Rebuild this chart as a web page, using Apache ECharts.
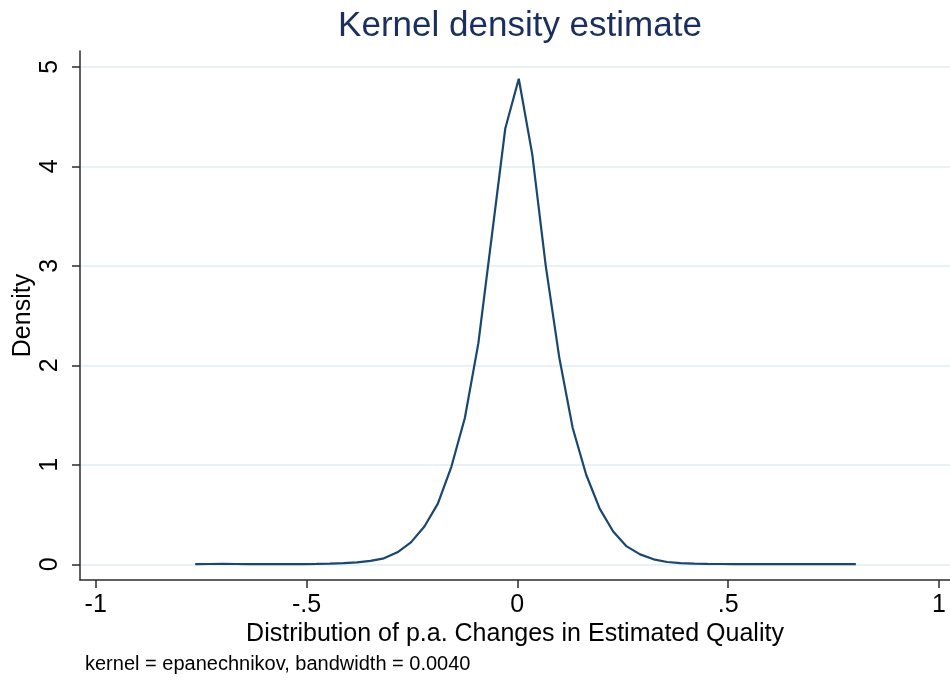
<!DOCTYPE html>
<html>
<head>
<meta charset="utf-8">
<script src="https://cdn.jsdelivr.net/npm/echarts@6/dist/echarts.min.js"></script>
<style>
  html, body { margin: 0; padding: 0; background: #ffffff; }
  #chart { width: 950px; height: 681px; }
</style>
</head>
<body>
<div id="chart"></div>
<script>
// Evaluation points of the kernel density estimate
const gridX = [
  -0.7640, -0.7320, -0.7000, -0.6681, -0.6361, -0.6041, -0.5721, -0.5401, -0.5082, -0.4762,
  -0.4442, -0.4122, -0.3802, -0.3483, -0.3163, -0.2843, -0.2523, -0.2203, -0.1884, -0.1564,
  -0.1244, -0.0924, -0.0604, -0.0285,  0.0035,  0.0355,  0.0675,  0.0995,  0.1314,  0.1634,
   0.1954,  0.2274,  0.2594,  0.2913,  0.3233,  0.3553,  0.3873,  0.4193,  0.4512,  0.4832,
   0.5152,  0.5472,  0.5792,  0.6111,  0.6431,  0.6751,  0.7071,  0.7391,  0.7711,  0.8030
];
// Estimated density at each point
const density = [
  0.002, 0.003, 0.004, 0.003, 0.002, 0.002, 0.002, 0.002, 0.002, 0.004,
  0.007, 0.012, 0.020, 0.035, 0.060, 0.120, 0.220, 0.380, 0.610, 0.980,
  1.470, 2.220, 3.300, 4.380, 4.880, 4.120, 3.000, 2.080, 1.370, 0.900,
  0.560, 0.330, 0.180, 0.100, 0.050, 0.023, 0.012, 0.007, 0.004, 0.003,
  0.002, 0.002, 0.002, 0.002, 0.001, 0.001, 0.001, 0.001, 0.001, 0.001
];
const xTicks = [-1, -0.5, 0, 0.5, 1];
const yTicks = [0, 1, 2, 3, 4, 5];

const titleText = 'Kernel density estimate';
const xTitle = 'Distribution of p.a. Changes in Estimated Quality';
const yTitle = 'Density';
const noteText = 'kernel = epanechnikov, bandwidth = 0.0040';

// Stata-style number format: drop the leading zero (".5", "-.5")
function stataNum(v) {
  const s = String(v);
  return s.replace(/^(-?)0\./, '$1.');
}

const FONT = '"Liberation Sans", Arial, sans-serif';
const AXIS_COLOR = '#2b2b2b';

const chart = echarts.init(document.getElementById('chart'), null, { renderer: 'canvas' });

chart.setOption({
  backgroundColor: '#ffffff',
  animation: false,
  title: [
    {
      text: titleText,
      left: 515,
      textAlign: 'center',
      top: 4,
      textStyle: { fontFamily: FONT, fontSize: 35, fontWeight: 'normal', color: '#1a2f5f' }
    },
    {
      text: noteText,
      left: 85,
      top: 654,
      padding: 0,
      textStyle: { fontFamily: FONT, fontSize: 20, fontWeight: 'normal', color: '#000000' }
    }
  ],
  grid: { left: 80, right: 0, top: 51, bottom: 101, containLabel: false, outerBoundsMode: 'none' },
  xAxis: {
    type: 'value',
    min: -1.0372,
    max: 1.0263,
    name: xTitle,
    nameLocation: 'middle',
    nameGap: 42,
    nameMoveOverlap: false,
    nameTextStyle: { fontFamily: FONT, fontSize: 25, color: '#000000' },
    axisLine: { show: true, onZero: false, lineStyle: { color: AXIS_COLOR, width: 1.5 } },
    axisTick: { show: true, length: 8, customValues: xTicks, lineStyle: { color: AXIS_COLOR, width: 1.5 } },
    axisLabel: {
      customValues: xTicks,
      margin: 13,
      fontFamily: FONT, fontSize: 25, color: '#000000',
      formatter: stataNum
    },
    splitLine: { show: false }
  },
  yAxis: {
    type: 'value',
    min: -0.1578,
    max: 5.1588,
    name: yTitle,
    nameLocation: 'middle',
    nameGap: 44,
    nameRotate: 90,
    nameMoveOverlap: false,
    nameTextStyle: { fontFamily: FONT, fontSize: 25, color: '#000000' },
    axisLine: { show: true, onZero: false, lineStyle: { color: AXIS_COLOR, width: 1.5 } },
    axisTick: { show: true, length: 8, customValues: yTicks, lineStyle: { color: AXIS_COLOR, width: 1.5 } },
    axisLabel: {
      customValues: yTicks,
      rotate: 90,
      margin: 17,
      fontFamily: FONT, fontSize: 25, color: '#000000',
      formatter: stataNum
    },
    splitLine: { show: true, lineStyle: { color: '#e8f1f3', width: 2 } }
  },
  series: [{
    type: 'line',
    data: gridX.map((x, i) => [x, density[i]]),
    showSymbol: false,
    smooth: false,
    lineStyle: { color: '#1a476f', width: 2.2 },
    itemStyle: { color: '#1a476f' },
    z: 3
  }]
});
</script>
</body>
</html>
